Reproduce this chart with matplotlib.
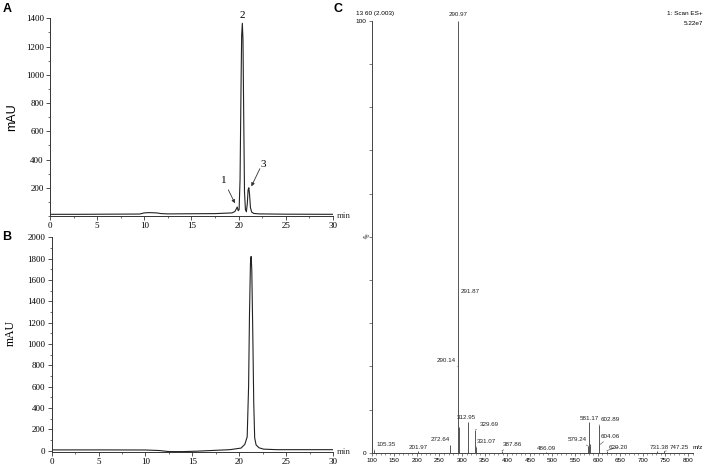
import matplotlib.pyplot as plt
from matplotlib.ticker import MultipleLocator

# ---- data ----
# A: HPLC chromatogram (min, mAU)
time_a = [0, 3, 6, 9.5, 10.0, 10.5, 11.3, 11.8, 12.5, 15, 17.5, 19.3, 19.6, 19.75, 19.85,
          19.95, 20.05, 20.15, 20.25, 20.32, 20.39, 20.46, 20.53, 20.62, 20.72, 20.82,
          20.92, 21.0, 21.08, 21.16, 21.25, 21.38, 21.6, 22.2, 25, 30]
mau_a = [12, 12, 13, 14, 22, 24, 22, 17, 15, 16, 17, 22, 32, 50, 64,
         38, 45, 260, 900, 1280, 1365, 1250, 760, 170, 45, 30,
         90, 185, 200, 150, 60, 28, 18, 15, 13, 12]
peak_ids_a = ['1', '2', '3']
peak_times_a = [19.86, 20.39, 21.1]

# B: HPLC chromatogram (min, mAU)
time_b = [0, 5, 10, 11.5, 12.5, 14, 15.5, 17, 19, 20.2, 20.6, 20.85, 21.0, 21.1, 21.2,
          21.27, 21.34, 21.44, 21.55, 21.65, 21.8, 22.1, 22.6, 24, 30]
mau_b = [8, 8, 7, 2, -8, -8, -4, 2, 10, 25, 60, 130, 600, 1300, 1760,
         1820, 1700, 1150, 450, 120, 55, 28, 15, 10, 10]

# C: ESI+ mass spectrum (m/z, relative intensity %)
mz = [105.35, 201.97, 272.64, 290.14, 290.97, 291.87, 292.8, 312.95, 314.0, 329.69,
      331.07, 387.86, 486.09, 579.24, 581.17, 582.2, 602.89, 604.06, 620.20, 731.38, 747.25]
rel_int = [0.6, 0.3, 1.8, 20, 100, 36, 6, 7.2, 1.0, 5.3,
           1.3, 0.4, 0.2, 1.5, 7.2, 2.0, 6.4, 1.8, 0.5, 0.3, 0.3]
mz_labels = ['105.35', '201.97', '272.64', '290.14', '290.97', '291.87', '312.95',
             '329.69', '331.07', '387.86', '486.09', '579.24', '581.17', '602.89',
             '604.06', '620.20', '731.38', '747.25']

# label placement (pixels offset, alignment, leader line)
label_style = {
    '105.35': (2, 3, 'left', True),
    '201.97': (0, 1, 'center', False),
    '272.64': (0, 3, 'right', False),
    '290.14': (-2, 3, 'right', True),
    '290.97': (0, 4, 'center', False),
    '291.87': (2, 3, 'left', True),
    '312.95': (-2, 2, 'center', False),
    '329.69': (4, 3, 'left', True),
    '331.07': (1, 3, 'left', True),
    '387.86': (1, 4, 'left', True),
    '486.09': (0, 1, 'center', False),
    '579.24': (-1, 4, 'right', True),
    '581.17': (0, 1, 'center', False),
    '602.89': (2, 3, 'left', True),
    '604.06': (1, 6, 'left', True),
    '620.20': (2, 1, 'left', True),
    '731.38': (2, 1, 'center', False),
    '747.25': (5, 1, 'left', True),
}

serif = 'Liberation Serif'
sans = 'Liberation Sans'
line_col = '#222222'

fig = plt.figure(figsize=(7.08, 4.70), dpi=100)


def style_chrom(ax):
    for s in ['top', 'right']:
        ax.spines[s].set_visible(False)
    for s in ['left', 'bottom']:
        ax.spines[s].set_linewidth(0.7)
        ax.spines[s].set_color('#333333')
    ax.set_xlim(0, 30)
    ax.xaxis.set_major_locator(MultipleLocator(5))
    ax.xaxis.set_minor_locator(MultipleLocator(2.5))
    ax.tick_params(which='major', length=3, width=0.6, color='#333333', labelsize=6.5, pad=1.5)
    ax.tick_params(which='minor', length=1.5, width=0.5, color='#333333')
    for lab in ax.get_xticklabels() + ax.get_yticklabels():
        lab.set_fontfamily(serif)
    ax.text(1.012, 0.0, 'min', transform=ax.transAxes, fontsize=6.5, family=serif,
            ha='left', va='center', color='#333333')


# ---- panel A ----
ax1 = fig.add_axes([0.0706, 0.5404, 0.3997, 0.4206])
ax1.plot(time_a, mau_a, color=line_col, lw=0.8)
ax1.set_ylim(0, 1400)
ax1.set_yticks([200, 400, 600, 800, 1000, 1200, 1400])
ax1.yaxis.set_minor_locator(MultipleLocator(100))
style_chrom(ax1)
ax1.set_ylabel('mAU', fontsize=9, family=sans)
ax1.yaxis.set_label_coords(-0.112, 0.5)

ax1.text(peak_times_a[1], 1390, peak_ids_a[1], fontsize=8, family=serif, ha='center', va='bottom')
ax1.text(peak_times_a[0] - 1.4, 250, peak_ids_a[0], fontsize=8, family=serif, ha='center', va='center')
ax1.text(peak_times_a[2] + 1.5, 365, peak_ids_a[2], fontsize=8, family=serif, ha='center', va='center')
arrow_kw = dict(arrowstyle='-|>', lw=0.6, color='#333333', mutation_scale=5, shrinkA=0, shrinkB=0)
ax1.annotate('', xy=(peak_times_a[0] - 0.25, 90), xytext=(peak_times_a[0] - 0.95, 185), arrowprops=arrow_kw)
ax1.annotate('', xy=(peak_times_a[2] + 0.25, 210), xytext=(peak_times_a[2] + 1.15, 335), arrowprops=arrow_kw)

# ---- panel B ----
ax2 = fig.add_axes([0.0730, 0.0387, 0.3973, 0.4564])
ax2.plot(time_b, mau_b, color=line_col, lw=0.8)
ax2.set_ylim(-10, 2000)
ax2.set_yticks(range(0, 2001, 200))
ax2.yaxis.set_minor_locator(MultipleLocator(100))
style_chrom(ax2)
ax2.set_ylabel('mAU', fontsize=8.5, family=serif)
ax2.yaxis.set_label_coords(-0.124, 0.554)

# ---- panel C ----
ax3 = fig.add_axes([0.525, 0.0368, 0.4538, 0.9191])
ax3.vlines(mz, 0, rel_int, color='#555555', lw=0.7)
ax3.set_xlim(100, 811)
ax3.set_ylim(0, 100)
for s in ['top', 'right']:
    ax3.spines[s].set_visible(False)
for s in ['left', 'bottom']:
    ax3.spines[s].set_linewidth(0.7)
    ax3.spines[s].set_color('#444444')
ax3.xaxis.set_major_locator(MultipleLocator(50))
ax3.xaxis.set_minor_locator(MultipleLocator(10))
ax3.set_yticks(range(0, 101, 10))
ax3.set_yticklabels(['0'] + [''] * 9 + ['100'])
ax3.tick_params(which='major', length=2.5, width=0.5, color='#444444', labelsize=4.6, pad=1)
ax3.tick_params(which='minor', length=1.5, width=0.4, color='#444444')
for lab in ax3.get_xticklabels() + ax3.get_yticklabels():
    lab.set_fontfamily(sans)
ax3.text(-0.016, 0.5, '%', transform=ax3.transAxes, fontsize=4.6, family=sans,
         rotation=45, ha='center', va='center')
ax3.text(1.0, 0.012, 'm/z', transform=ax3.transAxes, fontsize=4.6, family=sans,
         ha='left', va='center')

for lab in mz_labels:
    i = mz.index(float(lab))
    dx, dy, ha, leader = label_style[lab]
    arrowprops = None
    if leader:
        arrowprops = dict(arrowstyle='-', lw=0.4, color='#444444', shrinkA=0, shrinkB=0)
    ax3.annotate(lab, xy=(mz[i], rel_int[i]), xytext=(dx, dy), textcoords='offset pixels',
                 fontsize=4.5, family=sans, ha=ha, va='bottom', color='#222222',
                 arrowprops=arrowprops)

# header texts of the spectrum
fig.text(356 / 708, 1 - 13.3 / 470, '13 60 (2.003)', fontsize=4.6, family=sans, ha='left', va='center')
fig.text(703 / 708, 1 - 13.3 / 470, '1: Scan ES+', fontsize=4.6, family=sans, ha='right', va='center')
fig.text(703 / 708, 1 - 23.3 / 470, '5.22e7', fontsize=4.6, family=sans, ha='right', va='center')

# panel letters
fig.text(7.3 / 708, 1 - 9.3 / 470, 'A', fontsize=9, family=sans, weight='bold', ha='center', va='center')
fig.text(6.7 / 708, 1 - 236.7 / 470, 'B', fontsize=9, family=sans, weight='bold', ha='center', va='center')
fig.text(338 / 708, 1 - 9.3 / 470, 'C', fontsize=9, family=sans, weight='bold', ha='center', va='center')

fig.savefig('out.png', dpi=100)
